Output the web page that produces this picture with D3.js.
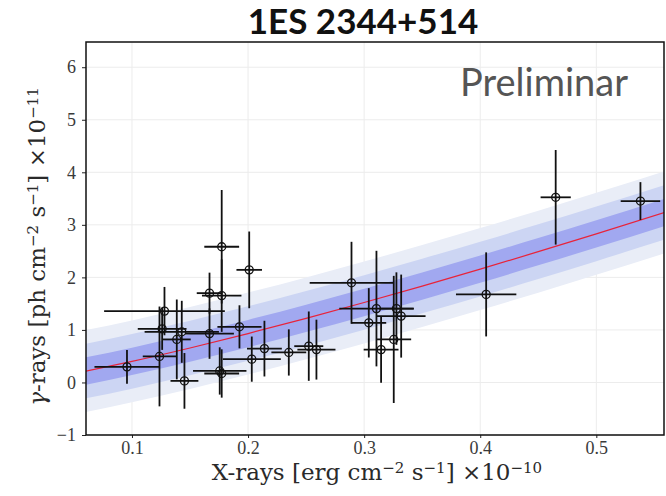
<!DOCTYPE html>
<html>
<head>
<meta charset="utf-8">
<script src="https://cdn.jsdelivr.net/npm/d3@7"></script>
<style>
  body { margin: 0; background: #fff; }
  .tick text { font-family: "Liberation Serif", serif; font-size: 18px; fill: #3a3a3a; }
  .titles { font-family: "DejaVu Serif", serif; font-size: 23px; fill: #2a2a2a; }
</style>
</head>
<body>
<svg id="chart" width="666" height="496"></svg>
<script>
// flux points: x = X-rays, y = gamma-rays, with symmetric errors
var xVals = [0.0957, 0.1237, 0.128, 0.126, 0.1429, 0.1386, 0.1452, 0.1668, 0.1668, 0.1773,
             0.1773, 0.201, 0.1926, 0.1756, 0.1773, 0.2032, 0.2141, 0.2351, 0.2523, 0.2589,
             0.2891, 0.3106, 0.304, 0.3146, 0.3278, 0.3319, 0.3255, 0.4051, 0.465, 0.538];
var xErr  = [0.028, 0.0144, 0.052, 0.021, 0.032, 0.012, 0.012, 0.021, 0.011, 0.017,
             0.015, 0.011, 0.019, 0.023, 0.015, 0.025, 0.015, 0.015, 0.0125, 0.0164,
             0.036, 0.032, 0.015, 0.015, 0.015, 0.021, 0.015, 0.026, 0.013, 0.017];
var yVals = [0.297, 0.495, 1.358, 1.02, 0.964, 0.819, 0.03, 0.93, 1.70, 1.653,
             2.583, 2.143, 1.059, 0.219, 0.171, 0.444, 0.644, 0.571, 0.691, 0.625,
             1.897, 1.406, 1.135, 0.625, 1.406, 1.263, 0.819, 1.676, 3.524, 3.453];
var yErr  = [0.32, 0.95, 0.46, 0.4, 0.59, 0.76, 0.53, 0.48, 0.39, 0.69,
             1.08, 0.73, 0.41, 0.45, 0.46, 0.43, 0.53, 0.44, 0.66, 0.57,
             0.78, 1.10, 0.66, 0.63, 0.69, 0.79, 1.21, 0.80, 0.90, 0.36];

// fitted correlation curve
var fitX = [0.06, 0.1, 0.15, 0.2, 0.25, 0.3, 0.35, 0.4, 0.45, 0.5, 0.56];
var fitY = [0.216, 0.401, 0.656, 0.931, 1.220, 1.522, 1.835, 2.158, 2.489, 2.829, 3.246];
// half widths of the 3, 2 and 1 sigma bands
var bandWidth = [0.78, 0.52, 0.26];
var bandColor = ["#e9edf7", "#ccd5f3", "#a1a8f0"];

var xTicks = [0.1, 0.2, 0.3, 0.4, 0.5];
var yTicks = [-1, 0, 1, 2, 3, 4, 5, 6];

var margin = {top: 42, right: 2, bottom: 61, left: 86};
var width = 666 - margin.left - margin.right;
var height = 496 - margin.top - margin.bottom;

var svg = d3.select("#chart");
var g = svg.append("g")
    .attr("transform", "translate(" + margin.left + "," + margin.top + ")");

var x = d3.scaleLinear().domain([0.0604, 0.5583]).range([0, width]);
var y = d3.scaleLinear().domain([-1, 6.48]).range([height, 0]);

svg.append("defs").append("clipPath").attr("id", "clip")
  .append("rect").attr("width", width).attr("height", height);

// grid
g.append("g").selectAll("line").data(xTicks).enter().append("line")
    .attr("x1", d => x(d)).attr("x2", d => x(d))
    .attr("y1", 0).attr("y2", height)
    .attr("stroke", "#ececec").attr("stroke-width", 1);
g.append("g").selectAll("line").data(yTicks).enter().append("line")
    .attr("x1", 0).attr("x2", width)
    .attr("y1", d => y(d)).attr("y2", d => y(d))
    .attr("stroke", "#ececec").attr("stroke-width", 1);

var fit = fitX.map(function(d, i) { return {x: d, y: fitY[i]}; });
var plot = g.append("g").attr("clip-path", "url(#clip)");

bandWidth.forEach(function(w, i) {
  var area = d3.area()
      .x(d => x(d.x))
      .y0(d => y(d.y - w))
      .y1(d => y(d.y + w))
      .curve(d3.curveMonotoneX);
  plot.append("path").datum(fit)
      .attr("d", area)
      .attr("fill", bandColor[i]);
});

plot.append("path").datum(fit)
    .attr("d", d3.line().x(d => x(d.x)).y(d => y(d.y)).curve(d3.curveMonotoneX))
    .attr("fill", "none")
    .attr("stroke", "#e8233a")
    .attr("stroke-width", 1.2);

var pts = xVals.map(function(d, i) {
  return {x: d, xe: xErr[i], y: yVals[i], ye: yErr[i]};
});

var pg = plot.append("g").selectAll("g").data(pts).enter().append("g");
pg.append("line")
    .attr("x1", d => x(d.x - d.xe)).attr("x2", d => x(d.x + d.xe))
    .attr("y1", d => y(d.y)).attr("y2", d => y(d.y))
    .attr("stroke", "#111").attr("stroke-width", 1.8);
pg.append("line")
    .attr("x1", d => x(d.x)).attr("x2", d => x(d.x))
    .attr("y1", d => y(d.y - d.ye)).attr("y2", d => y(d.y + d.ye))
    .attr("stroke", "#111").attr("stroke-width", 1.8);
pg.append("circle")
    .attr("cx", d => x(d.x)).attr("cy", d => y(d.y))
    .attr("r", 4)
    .attr("fill", "none")
    .attr("stroke", "#111").attr("stroke-width", 1.3);

// axes
var xAxis = g.append("g")
    .attr("transform", "translate(0," + height + ")")
    .call(d3.axisBottom(x).tickValues(xTicks).tickSize(3).tickPadding(3).tickFormat(d3.format(".1f")));
var yAxis = g.append("g")
    .call(d3.axisLeft(y).tickValues(yTicks).tickSize(4).tickPadding(6).tickFormat(d => d < 0 ? "\u2212" + (-d) : d));
[xAxis, yAxis].forEach(function(a) {
  a.select(".domain").remove();
  a.selectAll(".tick line").attr("stroke", "#222");
});

g.append("rect")
    .attr("width", width).attr("height", height)
    .attr("fill", "none").attr("stroke", "#111").attr("stroke-width", 1.5);

// axis titles
var xt = g.append("text")
    .attr("class", "titles")
    .attr("text-anchor", "middle")
    .attr("transform", "translate(" + (width / 2 + 2) + "," + (height + 45) + ")");
xt.append("tspan").text("X-rays [erg cm");
xt.append("tspan").attr("dy", -7).attr("font-size", 15).text("\u22122");
xt.append("tspan").attr("dy", 7).text(" s");
xt.append("tspan").attr("dy", -7).attr("font-size", 15).text("\u22121");
xt.append("tspan").attr("dy", 7).text("] \u00d710");
xt.append("tspan").attr("dy", -7).attr("font-size", 15).text("\u221210");

var yt = g.append("text")
    .attr("class", "titles")
    .attr("text-anchor", "middle")
    .attr("transform", "translate(-41," + (height / 2 + 8) + ")rotate(-90)");
yt.append("tspan").attr("font-style", "italic").text("\u03b3");
yt.append("tspan").text("-rays [ph cm");
yt.append("tspan").attr("dy", -7).attr("font-size", 15).text("\u22122");
yt.append("tspan").attr("dy", 7).text(" s");
yt.append("tspan").attr("dy", -7).attr("font-size", 15).text("\u22121");
yt.append("tspan").attr("dy", 7).text("] \u00d710");
yt.append("tspan").attr("dy", -7).attr("font-size", 15).text("\u221211");

svg.append("text")
    .text("1ES 2344+514")
    .attr("x", 363).attr("y", 34)
    .attr("text-anchor", "middle")
    .attr("font-family", "Lato, sans-serif")
    .attr("font-weight", "bold")
    .attr("font-size", 35)
    .attr("fill", "#111");

g.append("text")
    .text("Preliminar")
    .attr("x", 542).attr("y", 54)
    .attr("text-anchor", "end")
    .attr("font-family", "Lato, sans-serif")
    .attr("font-size", 38)
    .attr("fill", "#555");
</script>
</body>
</html>
